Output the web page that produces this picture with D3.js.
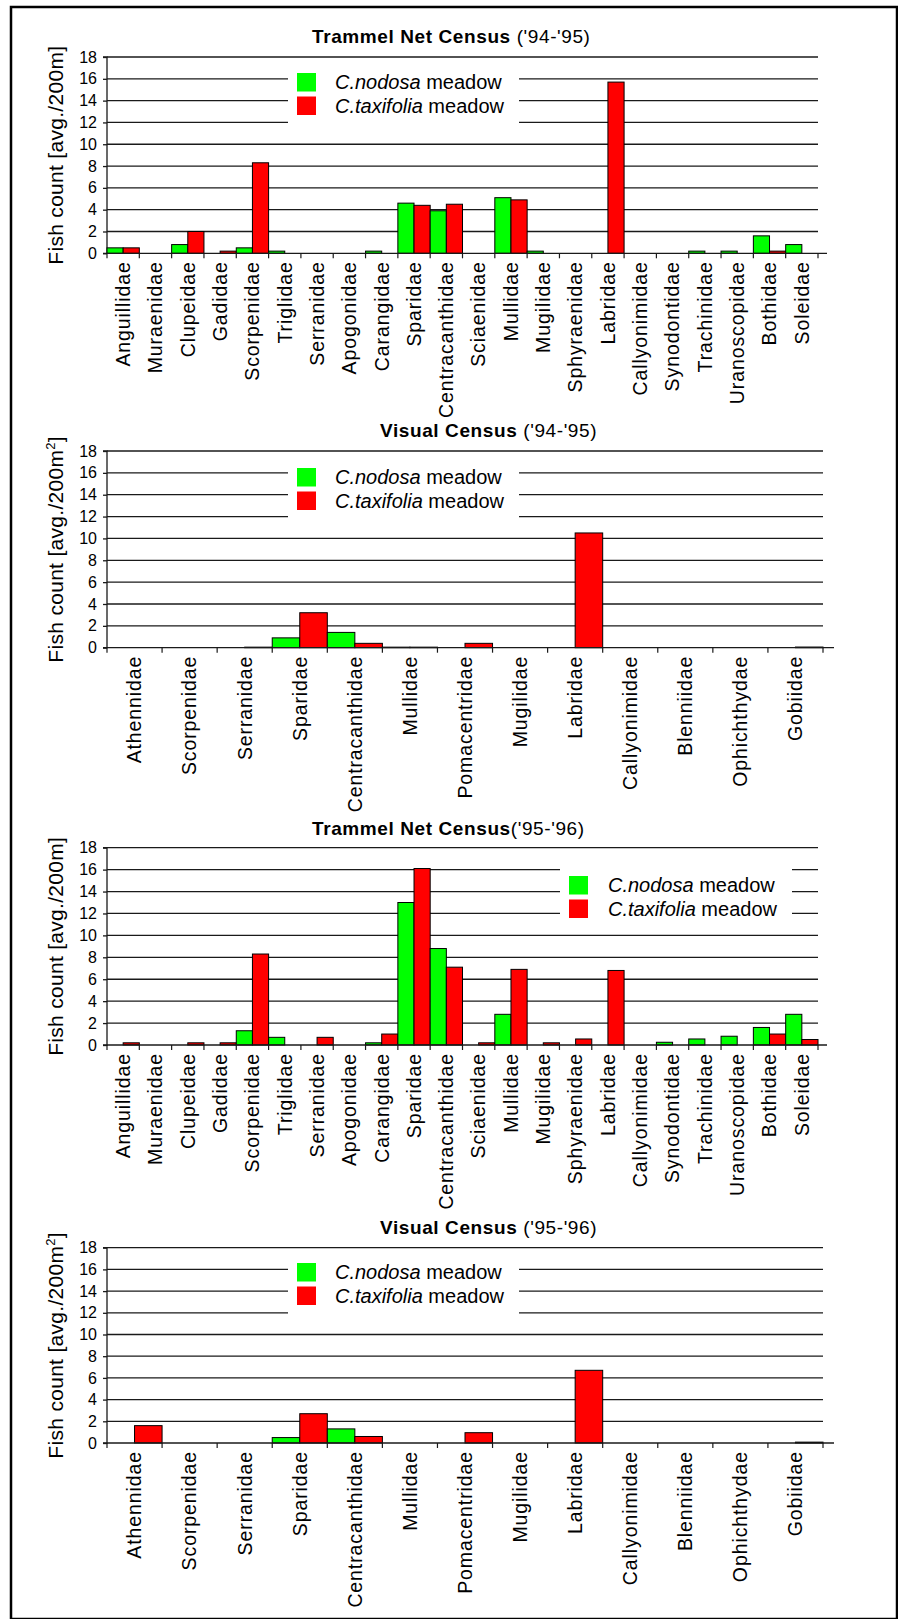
<!DOCTYPE html>
<html>
<head>
<meta charset="utf-8">
<script src="https://cdn.jsdelivr.net/npm/d3@7/dist/d3.min.js"></script>
<style>
  html, body { margin: 0; padding: 0; background: #fff; }
  svg { display: block; }
  text { font-family: "Liberation Sans", Arial, sans-serif; fill: #000; }
</style>
</head>
<body>
<svg id="chart" width="898" height="1619"></svg>
<script>
// ---------------- DATA ----------------
const trammelCats = ["Anguillidae","Muraenidae","Clupeidae","Gadidae","Scorpenidae","Triglidae","Serranidae","Apogonidae","Carangidae","Sparidae","Centracanthidae","Sciaenidae","Mullidae","Mugilidae","Sphyraenidae","Labridae","Callyonimidae","Synodontidae","Trachinidae","Uranoscopidae","Bothidae","Soleidae"];
const visualCats = ["Athennidae","Scorpenidae","Serranidae","Sparidae","Centracanthidae","Mullidae","Pomacentridae","Mugilidae","Labridae","Callyonimidae","Blenniidae","Ophichthydae","Gobiidae"];

// Trammel Net Census ('94-'95)
const tn9495Nodosa    = [0.5, 0, 0.8, 0,   0.5, 0.2, 0, 0, 0.2, 4.6, 3.9, 0, 5.1, 0.2, 0, 0,    0, 0, 0.2, 0.2, 1.6, 0.8];
const tn9495Taxifolia = [0.5, 0, 2.0, 0.2, 8.3, 0,   0, 0, 0,   4.4, 4.5, 0, 4.9, 0,   0, 15.7, 0, 0, 0,   0,   0.2, 0];

// Visual Census ('94-'95)
const vc9495Nodosa    = [0, 0, 0,    0.9, 1.4, 0.05, 0,   0, 0,    0, 0, 0, 0];
const vc9495Taxifolia = [0, 0, 0.05, 3.2, 0.4, 0.05, 0.4, 0, 10.5, 0, 0, 0, 0.06];

// Trammel Net Census ('95-'96)
const tn9596Nodosa    = [0,   0, 0,   0,   1.3, 0.7, 0,   0, 0.2, 13.0, 8.8, 0,   2.8, 0,   0,    0,   0, 0.25, 0.55, 0.8, 1.6, 2.8];
const tn9596Taxifolia = [0.2, 0, 0.2, 0.2, 8.3, 0,   0.7, 0, 1.0, 16.1, 7.1, 0.2, 6.9, 0.2, 0.55, 6.8, 0, 0,    0,    0,   1.0, 0.5];

// Visual Census ('95-'96)
const vc9596Nodosa    = [0,   0, 0, 0.5, 1.3, 0, 0,    0, 0,   0, 0, 0, 0];
const vc9596Taxifolia = [1.6, 0, 0, 2.7, 0.6, 0, 0.95, 0, 6.7, 0, 0, 0, 0.08];

const yTicks = [0, 2, 4, 6, 8, 10, 12, 14, 16, 18];
const seriesNames = ["C.nodosa", "C.taxifolia"];
const seriesSuffix = " meadow";

// ---------------- LAYOUT ----------------
const colors = ["#00ff00", "#ff0000"];
const svg = d3.select("#chart");

// frame
svg.append("rect").attr("x", 11).attr("y", 7).attr("width", 886).attr("height", 1612)
  .attr("fill", "none").attr("stroke", "#000").attr("stroke-width", 2.5);

const panels = [
  { bold: "Trammel Net Census", rest: " ('94-'95)", tx: 312, ty: 43,
    top: 57, bottom: 253.3, left: 107, right: 818, axisEnd: 827,
    cats: trammelCats, a: tn9495Nodosa, b: tn9495Taxifolia, sup: false,
    leg: { boxX: 288, boxW: 231, sqX: 297, sqY: 73, textX: 335 } },
  { bold: "Visual Census", rest: " ('94-'95)", tx: 380, ty: 437,
    top: 451, bottom: 647.7, left: 107, right: 823, axisEnd: 834,
    cats: visualCats, a: vc9495Nodosa, b: vc9495Taxifolia, sup: true,
    leg: { boxX: 288, boxW: 231, sqX: 297, sqY: 468, textX: 335 } },
  { bold: "Trammel Net Census", rest: "('95-'96)", tx: 312, ty: 835,
    top: 847.7, bottom: 1045, left: 107, right: 818, axisEnd: 827,
    cats: trammelCats, a: tn9596Nodosa, b: tn9596Taxifolia, sup: false,
    leg: { boxX: 560, boxW: 232, sqX: 569, sqY: 876, textX: 608 } },
  { bold: "Visual Census", rest: " ('95-'96)", tx: 380, ty: 1234,
    top: 1247.7, bottom: 1443, left: 107, right: 823, axisEnd: 834,
    cats: visualCats, a: vc9596Nodosa, b: vc9596Taxifolia, sup: true,
    leg: { boxX: 288, boxW: 231, sqX: 297, sqY: 1263, textX: 335 } }
];

panels.forEach(p => {
  const g = svg.append("g");
  const y = d3.scaleLinear().domain([0, 18]).range([p.bottom, p.top]);
  const x = d3.scaleBand().domain(p.cats).range([p.left, p.right]).paddingInner(0).paddingOuter(0);
  const xs = d3.scaleBand().domain([0, 1]).range([0, x.bandwidth()]).padding(0);

  // title
  const t = g.append("text").attr("x", p.tx).attr("y", p.ty).attr("font-size", 19);
  t.append("tspan").attr("font-weight", "bold").attr("letter-spacing", 0.6).text(p.bold);
  t.append("tspan").attr("font-weight", "normal").attr("letter-spacing", 0.6).text(p.rest);

  // gridlines
  g.append("g").selectAll("line").data(yTicks.filter(d => d > 0)).join("line")
    .attr("x1", p.left).attr("x2", p.right)
    .attr("y1", d => y(d)).attr("y2", d => y(d))
    .attr("stroke", "#1a1a1a").attr("stroke-width", 1.3);

  // y axis
  const yAxis = d3.axisLeft(y).tickValues(yTicks).tickSize(4).tickPadding(6).tickFormat(d3.format("d"));
  const ya = g.append("g").attr("transform", `translate(${p.left},0)`).call(yAxis);
  ya.select(".domain").attr("stroke", "#1a1a1a").attr("stroke-width", 1.3).attr("d", `M-4,${p.top}H0V${p.bottom}H-4`);
  ya.selectAll(".tick line").attr("stroke", "#1a1a1a").attr("stroke-width", 1.3);
  ya.selectAll(".tick text").attr("font-size", 16).attr("fill", "#000")
    .style("font-family", '"Liberation Sans", Arial, sans-serif');

  // legend (white box interrupting gridlines)
  const L = p.leg;
  const lg = g.append("g");
  lg.append("rect").attr("x", L.boxX).attr("y", y(17.5)).attr("width", L.boxW)
    .attr("height", y(10.6) - y(17.5)).attr("fill", "#fff");
  seriesNames.forEach((name, i) => {
    const sy = L.sqY + i * 23.5;
    lg.append("rect").attr("x", L.sqX).attr("y", sy).attr("width", 19).attr("height", 18.5)
      .attr("fill", colors[i]);
    const lt = lg.append("text").attr("x", L.textX).attr("y", sy + 16).attr("font-size", 20);
    lt.append("tspan").attr("font-style", "italic").text(name);
    lt.append("tspan").text(seriesSuffix);
  });

  // bars
  const rows = p.cats.map((c, i) => ({ cat: c, vals: [p.a[i], p.b[i]] }));
  const cg = g.append("g").selectAll("g").data(rows).join("g")
    .attr("transform", d => `translate(${x(d.cat)},0)`);
  cg.selectAll("rect").data(d => d.vals.map((v, k) => ({ v, k })).filter(e => e.v > 0)).join("rect")
    .attr("x", e => xs(e.k)).attr("width", xs.bandwidth())
    .attr("y", e => y(e.v)).attr("height", e => y(0) - y(e.v))
    .attr("fill", e => colors[e.k]).attr("stroke", "#000").attr("stroke-width", 1);

  // x axis baseline + ticks at band edges
  g.append("line").attr("x1", p.left).attr("x2", p.axisEnd)
    .attr("y1", y(0)).attr("y2", y(0)).attr("stroke", "#1a1a1a").attr("stroke-width", 1.3);
  const edges = p.cats.map(c => x(c)).concat([p.right]);
  g.append("g").selectAll("line").data(edges).join("line")
    .attr("x1", d => d).attr("x2", d => d).attr("y1", y(0)).attr("y2", y(0) + 5)
    .attr("stroke", "#1a1a1a").attr("stroke-width", 1.2);

  // category labels
  g.append("g").selectAll("text").data(p.cats).join("text")
    .attr("transform", d => `translate(${x(d) + x.bandwidth() / 2},${y(0) + 8}) rotate(-90)`)
    .attr("text-anchor", "end").attr("dy", "0.35em").attr("font-size", 19.5)
    .attr("letter-spacing", 0.9)
    .text(d => d);

  // y title
  const yt = g.append("text")
    .attr("transform", `translate(63,${(p.top + p.bottom) / 2}) rotate(-90)`)
    .attr("text-anchor", "middle").attr("font-size", 21).attr("letter-spacing", 0.3);
  yt.append("tspan").text(p.sup ? "Fish count [avg./200m" : "Fish count [avg./200m]");
  if (p.sup) {
    yt.append("tspan").attr("font-size", 13).attr("dy", -8).text("2");
    yt.append("tspan").attr("dy", 8).text("]");
  }
});
</script>
</body>
</html>
